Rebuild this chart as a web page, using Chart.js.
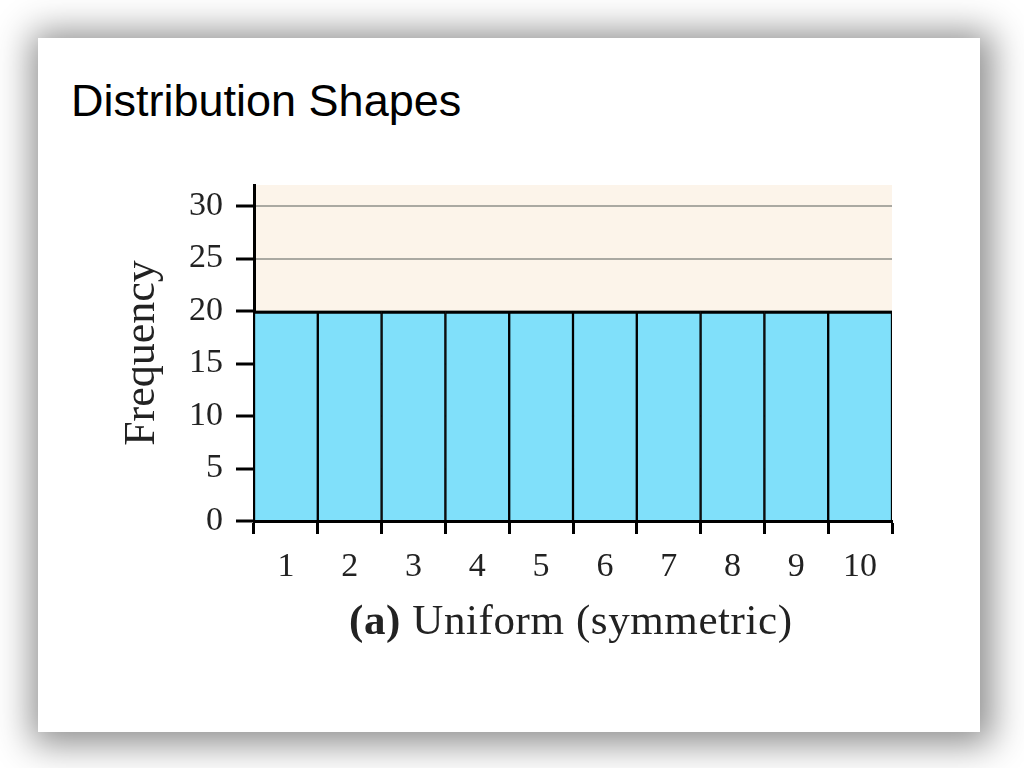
<!DOCTYPE html>
<html lang="en">
<head>
  <meta charset="UTF-8">
  <title>Distribution Shapes</title>
  <script src="https://cdn.jsdelivr.net/npm/chart.js"></script>
  <style>
    html, body {
      margin: 0;
      padding: 0;
      width: 1024px;
      height: 768px;
      overflow: hidden;
      background: #ffffff;
    }

    .slide {
      position: absolute;
      left: 38px;
      top: 38px;
      width: 942px;
      height: 694px;
      background: #ffffff;
      box-shadow: 3px 3px 34px 9px rgba(0, 0, 0, 0.45);
    }

    .slide-title {
      position: absolute;
      left: 71px;
      top: 75px;
      font-family: "Liberation Sans", Arial, sans-serif;
      font-size: 45px;
      color: #000;
      margin: 0;
      font-weight: normal;
      white-space: nowrap;
    }

    .caption {
      position: absolute;
      left: 349px;
      top: 595px;
      font-family: "Liberation Serif", "Times New Roman", serif;
      font-size: 43px;
      letter-spacing: 0.6px;
      color: #222;
      white-space: nowrap;
    }

    .chart-wrap {
      position: absolute;
      left: 0;
      top: 0;
      width: 1024px;
      height: 768px;
    }
  </style>
</head>
<body>

<div class="slide"></div>
<h1 class="slide-title">Distribution Shapes</h1>

<div class="chart-wrap">
  <canvas id="histChart"></canvas>
</div>

<div class="caption"><b>(a)</b> Uniform (symmetric)</div>

<script>
  // chart values
  const categories = ['1', '2', '3', '4', '5', '6', '7', '8', '9', '10'];
  const frequencies = [20, 20, 20, 20, 20, 20, 20, 20, 20, 20];
  const yTicks = [0, 5, 10, 15, 20, 25, 30];

  const serif = '"Liberation Serif", "Times New Roman", serif';

  // beige fill behind the plot
  const plotBackground = {
    id: 'plotBackground',
    beforeDraw(chart) {
      const { ctx, chartArea } = chart;
      ctx.save();
      ctx.fillStyle = '#fcf4ea';
      ctx.fillRect(chartArea.left, chartArea.top,
        chartArea.right - chartArea.left, chartArea.bottom - chartArea.top);
      ctx.restore();
    }
  };

  const ctx = document.getElementById('histChart').getContext('2d');
  new Chart(ctx, {
    type: 'bar',
    data: {
      labels: categories,
      datasets: [{
        label: 'Frequency',
        data: frequencies,
        backgroundColor: '#80e0fa',
        borderColor: '#000000',
        borderWidth: { top: 3, left: 1.5, right: 1.5, bottom: 0 },
        borderSkipped: false,
        barPercentage: 1,
        categoryPercentage: 1
      }]
    },
    options: {
      responsive: true,
      maintainAspectRatio: false,
      animation: false,
      layout: {
        padding: { left: 116, right: 132, top: 185, bottom: 167 }
      },
      plugins: {
        legend: { display: false },
        tooltip: { enabled: false }
      },
      scales: {
        x: {
          offset: true,
          afterFit(scale) { scale.height = 80; },
          border: { display: true, color: '#000', width: 3 },
          grid: {
            offset: true,
            drawOnChartArea: false,
            drawTicks: true,
            tickLength: 13,
            tickColor: '#000',
            tickWidth: 3
          },
          ticks: {
            color: '#222',
            padding: 13,
            font: { family: serif, size: 34 }
          }
        },
        y: {
          min: 0,
          max: 32,
          afterFit(scale) { scale.width = 254 - 116; },
          afterBuildTicks(scale) {
            scale.ticks = yTicks.map(v => ({ value: v }));
          },
          border: { display: true, color: '#000', width: 3 },
          grid: {
            color: '#aaa9a2',
            lineWidth: 2,
            drawTicks: true,
            tickLength: 18,
            tickColor: '#000',
            tickWidth: 3
          },
          ticks: {
            color: '#222',
            padding: 13,
            font: { family: serif, size: 34 }
          },
          title: {
            display: true,
            text: 'Frequency',
            color: '#222',
            padding: 0,
            font: { family: serif, size: 44 }
          }
        }
      }
    },
    plugins: [plotBackground]
  });
</script>

</body>
</html>
